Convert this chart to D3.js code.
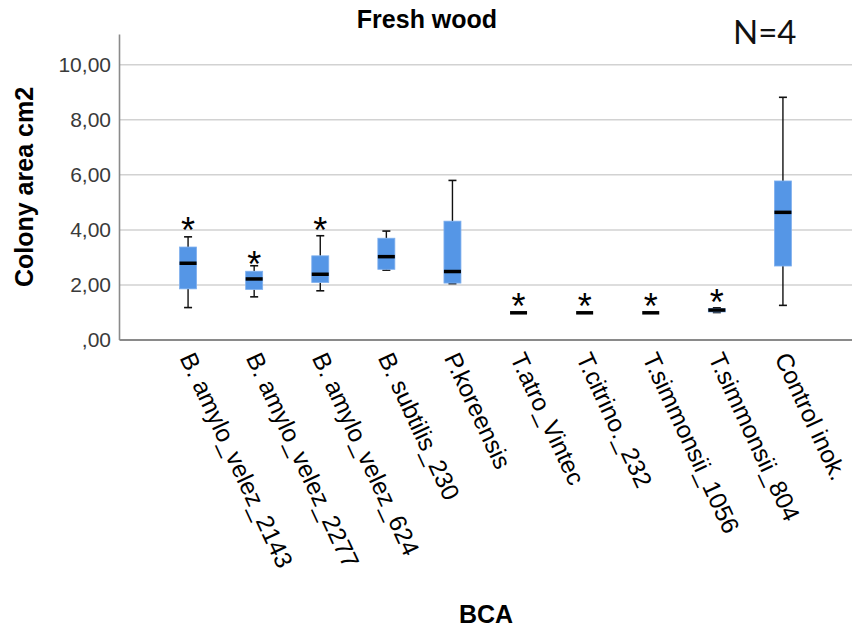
<!DOCTYPE html>
<html>
<head>
<meta charset="utf-8">
<script src="https://cdn.jsdelivr.net/npm/d3@7"></script>
<style>
  html, body { margin: 0; padding: 0; background: #ffffff; }
  svg { display: block; }
</style>
</head>
<body>
<svg id="chart" width="852" height="631"></svg>
<script>
// ---- data ----
const categories = [
  "B. amylo_velez_2143", "B. amylo_velez_2277", "B. amylo_velez_624",
  "B. subtilis_230", "P.koreensis", "T.atro_Vintec", "T.citrino._232",
  "T.simmonsii_1056", "T.simmonsii_804", "Control inok."
];
const whiskerLow  = [1.16, 1.55, 1.77, 2.52, 2.03, 0.97, 0.97, 0.97, 0.98, 1.24];
const quartile1   = [1.84, 1.82, 2.07, 2.55, 2.05, 0.97, 0.97, 0.97, 1.00, 2.67];
const medians     = [2.77, 2.20, 2.37, 3.01, 2.47, 0.97, 0.97, 0.97, 1.07, 4.62];
const quartile3   = [3.36, 2.48, 3.04, 3.68, 4.30, 0.97, 0.97, 0.97, 1.12, 5.76];
const whiskerHigh = [3.73, 2.68, 3.77, 3.94, 5.78, 0.97, 0.97, 0.97, 1.15, 8.80];
// significance asterisks: category index and value at the glyph centre
const starCategory = [0, 1, 2, 5, 6, 7, 8];
const starValue    = [4.28, 3.03, 4.28, 1.52, 1.52, 1.52, 1.64];
const yTickValues = [0, 2, 4, 6, 8, 10];
const yTickLabels = [",00", "2,00", "4,00", "6,00", "8,00", "10,00"];
const chartTitle = "Fresh wood";
const xTitle = "BCA";
const yTitle = "Colony area cm2";
const nNote = "N=4";

// ---- layout ----
const svg = d3.select("#chart");
const plotLeft = 119, plotRight = 852, plotBottom = 339.5, plotTop = 34;

const x = d3.scaleBand()
  .domain(categories)
  .range([plotLeft, plotRight])
  .paddingInner(0)
  .paddingOuter(0.545);

const y = d3.scaleLinear()
  .domain([0, 11.1])
  .range([plotBottom, plotTop]);

const boxes = categories.map((c, i) => ({
  cat: c, lo: whiskerLow[i], q1: quartile1[i], med: medians[i],
  q3: quartile3[i], hi: whiskerHigh[i]
}));

// gridlines
svg.append("g")
  .attr("transform", `translate(${plotLeft},0)`)
  .call(d3.axisRight(y).tickValues(yTickValues.filter(v => v > 0))
        .tickSize(plotRight - plotLeft).tickFormat(""))
  .call(g => g.select(".domain").remove())
  .call(g => g.selectAll(".tick line").attr("stroke", "#d2d2d2").attr("stroke-width", 1.5));

// y axis
const yAxis = svg.append("g")
  .attr("transform", `translate(${plotLeft},0)`)
  .call(d3.axisLeft(y).tickValues(yTickValues).tickSize(0).tickPadding(8)
        .tickFormat((d, i) => yTickLabels[i]));
yAxis.select(".domain").attr("stroke", "#8a8a8a").attr("stroke-width", 1.6);
yAxis.selectAll(".tick text")
  .attr("font-family", "'Liberation Sans', Arial, sans-serif")
  .attr("font-size", 21).attr("fill", "#3a3a3a");

// x axis
const xAxis = svg.append("g")
  .attr("transform", `translate(0,${plotBottom})`)
  .call(d3.axisBottom(x).tickSize(0).tickFormat(""));
xAxis.select(".domain").attr("stroke", "#8a8a8a").attr("stroke-width", 2);
xAxis.selectAll(".tick text").remove();

// x labels, rotated
svg.append("g").selectAll("text")
  .data(categories)
  .join("text")
  .attr("transform", d => `translate(${x(d) + x.bandwidth() / 2 - 1},354) rotate(65)`)
  .attr("text-anchor", "start")
  .attr("dy", "0.35em")
  .attr("font-family", "'Liberation Sans', Arial, sans-serif")
  .attr("font-size", 24.5)
  .attr("fill", "#000")
  .text(d => d);

// boxes
const boxW = 17, capW = 8;
const bg = svg.append("g").selectAll("g").data(boxes).join("g")
  .attr("transform", d => `translate(${x(d.cat) + x.bandwidth() / 2},0)`);

bg.filter(d => d.hi > d.q3).append("line")
  .attr("x1", 0).attr("x2", 0)
  .attr("y1", d => y(d.q3)).attr("y2", d => y(d.hi))
  .attr("stroke", "#111").attr("stroke-width", 1.4);
bg.filter(d => d.q1 > d.lo).append("line")
  .attr("x1", 0).attr("x2", 0)
  .attr("y1", d => y(d.lo)).attr("y2", d => y(d.q1))
  .attr("stroke", "#111").attr("stroke-width", 1.4);
bg.filter(d => d.hi > d.q3).append("line")
  .attr("x1", -capW / 2).attr("x2", capW / 2)
  .attr("y1", d => y(d.hi)).attr("y2", d => y(d.hi))
  .attr("stroke", "#111").attr("stroke-width", 1.6);
bg.filter(d => d.q1 > d.lo).append("line")
  .attr("x1", -capW / 2).attr("x2", capW / 2)
  .attr("y1", d => y(d.lo)).attr("y2", d => y(d.lo))
  .attr("stroke", "#111").attr("stroke-width", 1.6);

bg.filter(d => d.q3 > d.q1).append("rect")
  .attr("x", -boxW / 2).attr("width", boxW)
  .attr("y", d => y(d.q3))
  .attr("height", d => y(d.q1) - y(d.q3))
  .attr("fill", "#5596e6")
  .attr("stroke", "#7fb0ee").attr("stroke-width", 0.8);

bg.append("line")
  .attr("x1", -boxW / 2).attr("x2", boxW / 2)
  .attr("y1", d => y(d.med)).attr("y2", d => y(d.med))
  .attr("stroke", "#000").attr("stroke-width", 3.5);

// asterisks
svg.append("g").selectAll("text")
  .data(starCategory.map((c, i) => ({ cat: categories[c], v: starValue[i] })))
  .join("text")
  .attr("x", d => x(d.cat) + x.bandwidth() / 2)
  .attr("y", d => y(d.v) + 21)
  .attr("text-anchor", "middle")
  .attr("font-family", "'Liberation Sans', Arial, sans-serif")
  .attr("font-size", 36)
  .attr("fill", "#000")
  .text("*");

// titles
svg.append("text")
  .attr("x", 427).attr("y", 28)
  .attr("text-anchor", "middle")
  .attr("font-family", "'Liberation Sans', Arial, sans-serif")
  .attr("font-weight", "bold").attr("font-size", 25)
  .text(chartTitle);

svg.append("text")
  .attr("x", 486).attr("y", 623)
  .attr("text-anchor", "middle")
  .attr("font-family", "'Liberation Sans', Arial, sans-serif")
  .attr("font-weight", "bold").attr("font-size", 25)
  .text(xTitle);

svg.append("text")
  .attr("transform", "translate(33,187) rotate(-90)")
  .attr("text-anchor", "middle")
  .attr("font-family", "'Liberation Sans', Arial, sans-serif")
  .attr("font-weight", "bold").attr("font-size", 25)
  .text(yTitle);

svg.append("text")
  .attr("x", 733).attr("y", 44)
  .attr("font-family", "Lato, 'Open Sans', sans-serif")
  .attr("font-size", 33)
  .attr("fill", "#111")
  .text(nNote);
</script>
</body>
</html>
